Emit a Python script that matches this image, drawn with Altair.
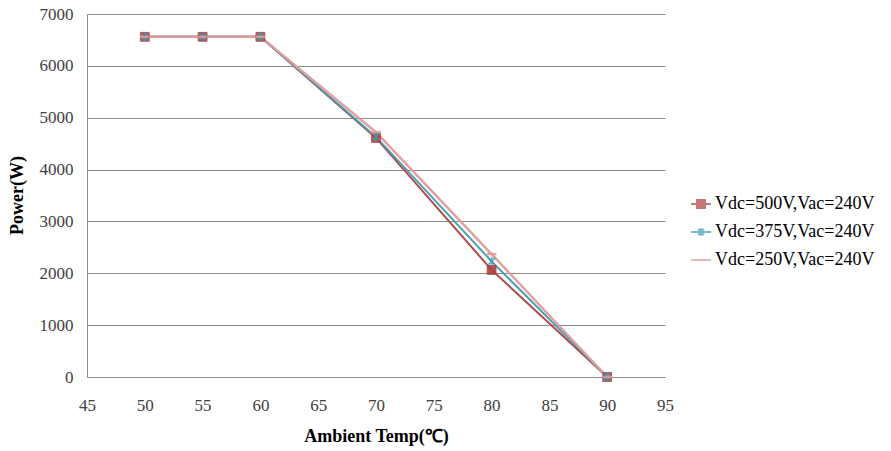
import altair as alt
import pandas as pd

temps = [50, 55, 60, 70, 80, 90]
series_names = ["Vdc=500V,Vac=240V", "Vdc=375V,Vac=240V", "Vdc=250V,Vac=240V"]
p500 = [6560, 6560, 6560, 4610, 2065, 0]
p375 = [6560, 6560, 6560, 4630, 2230, 0]
p250 = [6560, 6560, 6560, 4720, 2370, 0]
colors = ["#B0403D", "#3F9DB6", "#DE9C9A"]

rows = []
for name, vals in zip(series_names, [p500, p375, p250]):
    for t, v in zip(temps, vals):
        rows.append({"temp": t, "power": v, "series": name})
df = pd.DataFrame(rows)

FONT = "Liberation Serif, Times New Roman, serif"

xenc = alt.X("temp:Q", scale=alt.Scale(domain=[45, 95], nice=False),
             axis=alt.Axis(values=list(range(45, 100, 5)), title="Ambient Temp(℃)",
                           grid=False, ticks=False, labelPadding=20, format="d",
                           labelFlush=False, labelOverlap=False,
                           titleY=59, titleBaseline="middle"))
yenc = alt.Y("power:Q", scale=alt.Scale(domain=[0, 7000], nice=False),
             axis=alt.Axis(values=list(range(0, 7001, 1000)), title="Power(W)",
                           grid=True, ticks=False, labelPadding=14, format="d",
                           labelFlush=False, labelOverlap=False,
                           titleX=-70, titleY=181, titleBaseline="middle"))
cscale = alt.Scale(domain=series_names, range=colors)

plot_shapes = [
    "M-1.1,-1.1H1.1V1.1H-1.1Z",
    "M-0.9,-0.9L0.9,0.9M-0.9,0.9L0.9,-0.9M0,-1.1V1.1",
    "M-1.2,0H1.2",
]
legend_shapes = [
    "M-1,0H1M-0.4,-0.4H0.4V0.4H-0.4Z",
    "M-1,0H1M-0.3,-0.3L0.3,0.3M-0.3,0.3L0.3,-0.3M0,-0.4V0.4",
    "M-1,0H1M-0.4,0H0.4",
]
widths = [2, 2, 2.5]

layers = []
for i, name in enumerate(series_names):
    sub = df[df.series == name]
    layers.append(
        alt.Chart(sub).mark_line(strokeWidth=widths[i], color=colors[i], opacity=0.95)
        .encode(x=xenc, y=yenc)
    )
for i, name in enumerate(series_names):
    sub = df[df.series == name]
    if i == 0:
        m = alt.Chart(sub).mark_point(shape=plot_shapes[i], size=64, filled=True,
                                      fill=colors[i], stroke=colors[i], strokeWidth=1,
                                      opacity=0.9)
    else:
        m = alt.Chart(sub).mark_point(shape=plot_shapes[i], size=64, filled=False,
                                      stroke=colors[i], strokeWidth=1.5 if i == 1 else 2.5,
                                      opacity=0.9)
    layers.append(m.encode(x=xenc, y=yenc))

leg = dict(title=None, orient="none", legendX=603, legendY=179,
           symbolSize=400, labelOffset=3, rowPadding=8, padding=0,
           labelFont=FONT, labelFontSize=18, labelColor="#000000", symbolStrokeWidth=2)

legend_layer = alt.Chart(df).mark_point(filled=True, strokeWidth=2).encode(
    x=xenc, y=yenc,
    color=alt.Color("series:N", scale=cscale, legend=alt.Legend(**leg)),
    stroke=alt.Stroke("series:N", scale=cscale, legend=None),
    shape=alt.Shape("series:N", scale=alt.Scale(domain=series_names, range=legend_shapes),
                    legend=alt.Legend(**leg)),
).transform_filter("false")

chart = alt.layer(legend_layer, *layers).properties(
    width=578, height=363,
    autosize=alt.AutoSizeParams(type="none"),
    padding={"left": 79, "top": 6, "right": 218, "bottom": 90},
).configure_view(stroke=None).configure_axis(
    domainColor="#8C8C8C", gridColor="#8C8C8C", domainWidth=1, gridWidth=1,
    labelFont=FONT, labelFontSize=17, labelColor="#404040",
    titleFont=FONT, titleFontSize=18, titleFontWeight="bold", titleColor="#000000",
)

chart.save("out.html", embed_options={"renderer": "svg", "actions": False})
